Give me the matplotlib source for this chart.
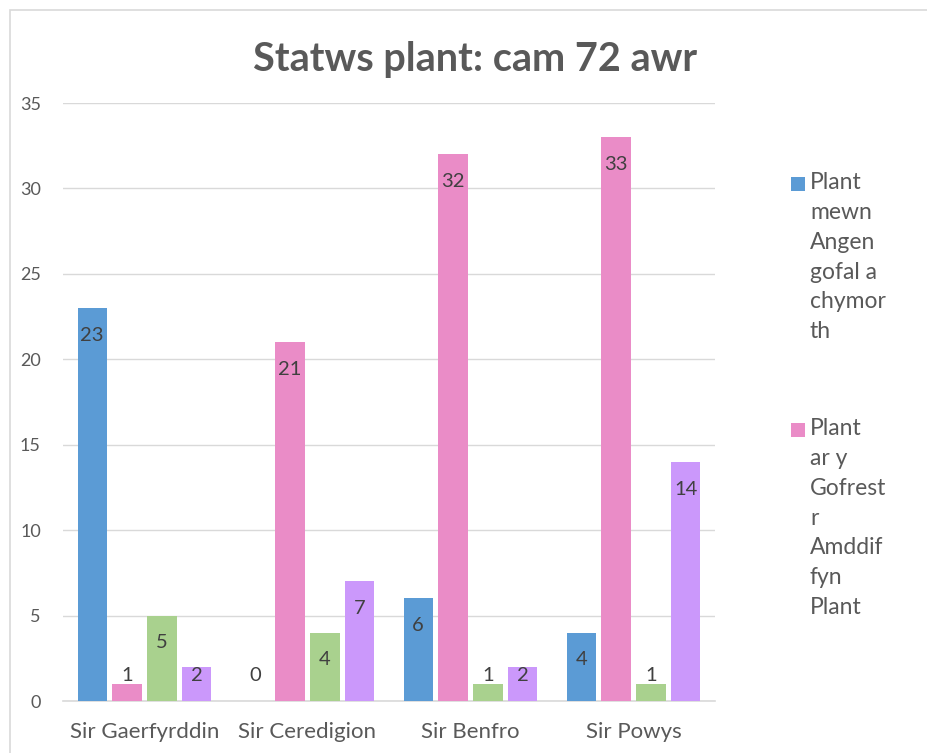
import matplotlib.pyplot as plt
import numpy as np
from matplotlib.patches import Rectangle

plt.rcParams['font.family'] = ['Lato', 'DejaVu Sans']

categories = ['Sir Gaerfyrddin', 'Sir Ceredigion', 'Sir Benfro', 'Sir Powys']
series_names = ['Plant mewn Angen gofal a chymorth',
                'Plant ar y Gofrestr Amddiffyn Plant',
                'Cyfres 3', 'Cyfres 4']
legend_text = ['Plant\nmewn\nAngen\ngofal a\nchymor\nth',
               'Plant\nar y\nGofrest\nr\nAmddif\nfyn\nPlant']
blue_vals = [23, 0, 6, 4]
pink_vals = [1, 21, 32, 33]
green_vals = [5, 4, 1, 1]
purple_vals = [2, 7, 2, 14]
colors = ['#5B9BD5', '#EA8CC7', '#A9D18E', '#CB98FB']

W, H = 928, 753
fig = plt.figure(figsize=(W / 100, H / 100), dpi=100)

# chart border
fig.patches.append(Rectangle((10 / W, -0.01), 1.0, (H - 10) / H + 0.01,
                             transform=fig.transFigure, fill=False,
                             edgecolor='#D9D9D9', linewidth=1.2))

ax = fig.add_axes([63 / W, 52 / H, (715 - 63) / W, (701 - 103) / H])
x = np.arange(len(categories))
width = 0.18
step = 0.214
all_vals = [blue_vals, pink_vals, green_vals, purple_vals]
for i, vals in enumerate(all_vals):
    xs = x + (i - 1.5) * step
    ax.bar(xs, vals, width, color=colors[i], zorder=3, label=series_names[i])
    for xi, v in zip(xs, vals):
        ax.text(xi, max(v - 1.6, 1.5), str(v), ha='center', va='center',
                fontsize=14.5, color='#404040', zorder=4)

ax.set_xlim(-0.5, 3.5)
ax.set_ylim(0, 35)
ax.set_yticks(range(0, 36, 5))
ax.grid(axis='y', color='#D9D9D9', linewidth=1, zorder=0)
for s in ['top', 'right', 'left']:
    ax.spines[s].set_visible(False)
ax.spines['bottom'].set_color('#D9D9D9')
ax.spines['bottom'].set_linewidth(1.2)
ax.tick_params(axis='both', length=0)
ax.tick_params(axis='y', labelsize=13, colors='#595959', pad=16)
ax.tick_params(axis='x', labelsize=16, colors='#595959', pad=15)
ax.set_xticks(x)
ax.set_xticklabels(categories)

fig.text(475 / W, 1 - 60 / H, 'Statws plant: cam 72 awr', ha='center',
         va='center', fontsize=28.5, fontweight='bold', color='#595959')

# legend (only first two entries visible)
legend_tops = [172, 418]
for i, txt in enumerate(legend_text):
    top = legend_tops[i]
    fig.patches.append(Rectangle((791 / W, 1 - (top + 19) / H), 14 / W, 14 / H,
                                 transform=fig.transFigure,
                                 facecolor=colors[i], edgecolor='none'))
    fig.text(810 / W, 1 - top / H, txt, ha='left', va='top', fontsize=16.5,
             color='#595959', linespacing=1.52)

fig.savefig('out.png', dpi=100)
